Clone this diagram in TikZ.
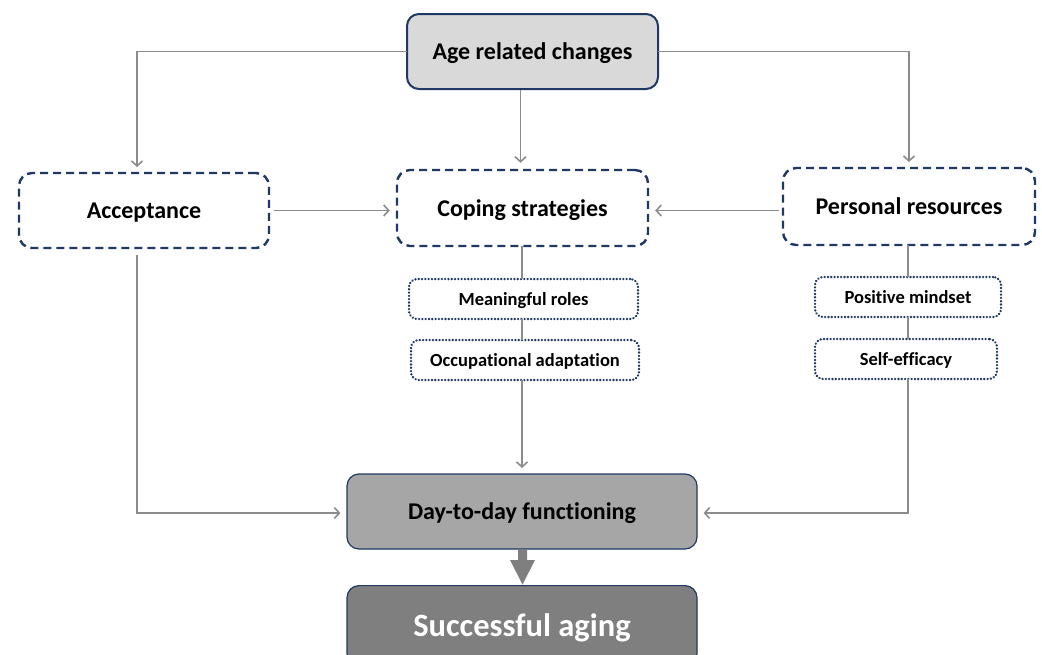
\documentclass[tikz,border=0pt]{standalone}
\usepackage{fontspec}
\setmainfont{Carlito}[Ligatures=NoCommon]
\usetikzlibrary{arrows.meta,calc}
\definecolor{navy}{HTML}{1F3864}
\definecolor{linegray}{HTML}{8C8C8C}
\definecolor{topfill}{HTML}{D9D9D9}
\definecolor{midfill}{HTML}{A6A6A6}
\definecolor{darkfill}{HTML}{7F7F7F}
\tikzset{
  solidbox/.style={draw=navy, line width=2pt, rounded corners=12pt, align=center, font=\bfseries\fontsize{24}{28}\selectfont, inner sep=0pt, text depth=0pt},
  dashbox/.style={draw=navy, line width=2.4pt, dash pattern=on 8pt off 5pt, rounded corners=13pt, align=center, font=\bfseries\fontsize{24}{28}\selectfont, inner sep=0pt, fill=white, text depth=0pt},
  dotbox/.style={draw=navy, line width=2.5pt, dash pattern=on 0.1pt off 3.2pt, line cap=round, rounded corners=8pt, align=center, font=\bfseries\fontsize{18.5}{22}\selectfont, inner sep=0pt, fill=white, text depth=0pt},
  conn/.style={draw=linegray, line width=1.6pt, -{Straight Barb[length=5pt,width=11pt,line width=1.6pt]}, shorten >=6pt},
  plain/.style={draw=linegray, line width=1.6pt},
}
\begin{document}
\begin{tikzpicture}[x=1pt,y=-1pt]
\useasboundingbox (0,0) rectangle (1042,654);
% nodes
\node[solidbox, fill=topfill, minimum width=251pt, minimum height=75pt] (age) at (532.5,51.5) {Age related changes};
\node[dashbox, minimum width=250pt, minimum height=75pt] (acc) at (144,210.5) {Acceptance};
\node[dashbox, minimum width=251pt, minimum height=76pt] (cop) at (522.5,208) {Coping strategies};
\node[dashbox, minimum width=252pt, minimum height=77pt] (per) at (909,206.5) {Personal resources};
\node[dotbox, minimum width=229pt, minimum height=40pt] (mean) at (523.5,299) {Meaningful roles};
\node[dotbox, minimum width=228pt, minimum height=40pt] (occ) at (525,360) {Occupational adaptation};
\node[dotbox, minimum width=186pt, minimum height=40pt] (pos) at (908,297) {Positive mindset};
\node[dotbox, minimum width=182pt, minimum height=40pt] (self) at (906,359) {Self-efficacy};
\node[solidbox, line width=1.2pt, fill=midfill, minimum width=350pt, minimum height=75pt] (day) at (522,511.5) {Day-to-day functioning};
\node[solidbox, line width=1.2pt, fill=darkfill, minimum width=350pt, minimum height=80pt, anchor=north] (succ) at (522,585) {};
\node[text=white, font=\bfseries\fontsize{32.5}{38}\selectfont, inner sep=0pt, text depth=0pt] (succt) at (522,625) {Successful aging};
% coordinates
\coordinate (accTop) at (137,173);
\coordinate (perTop) at (909,168);
\coordinate (ageL) at (407,51.5);
\coordinate (ageR) at (658,51.5);
% connectors
\draw[conn] (ageL) -| (accTop);
\draw[conn] (ageR) -| (perTop);
\draw[conn] (age.south -| cop.north) ++(-2,0) coordinate (a1) -- (a1 |- cop.north);
\draw[conn] (acc.east) ++(4,0) coordinate (a2) -- (cop.west |- a2);
\draw[conn] (per.west) ++(-3,4) coordinate (a3) -- (cop.east |- a3);
\draw[plain] (522,246) -- (522,279);
\draw[plain] (522,319) -- (522,340);
\draw[conn] (522,380) -- (522,474);
\draw[plain] (908,245) -- (908,277);
\draw[plain] (908,317) -- (908,339);
\coordinate (accBot) at (137,255);
\draw[conn] (accBot) |- (day.west |- 0,513);
\coordinate (selfBot) at (908,379);
\draw[conn] (selfBot) |- (day.east |- 0,513);
% block arrow
\fill[darkfill] (518,549.5) -- (527,549.5) -- (527,560) -- (535,560) -- (522.5,584.5) -- (510,560) -- (518,560) -- cycle;
\end{tikzpicture}
\end{document}
